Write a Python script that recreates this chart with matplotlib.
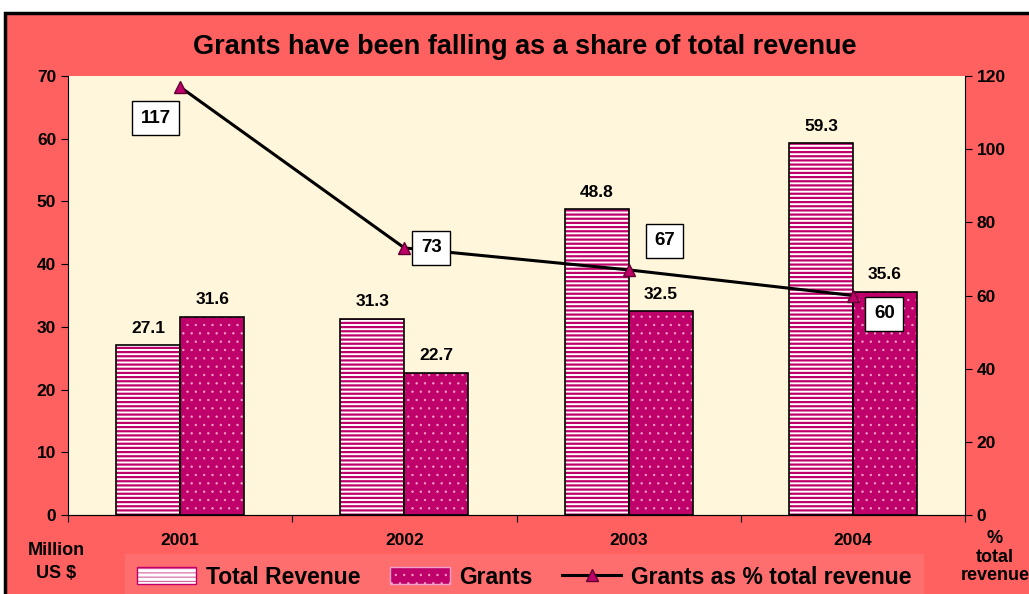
import matplotlib.pyplot as plt
import numpy as np
from matplotlib.patches import Rectangle, Patch
from matplotlib.lines import Line2D

plt.rcParams['font.family'] = ['Liberation Sans', 'DejaVu Sans']
plt.rcParams['font.weight'] = 'bold'

# dados
anos = ['2001', '2002', '2003', '2004']
receita_total = [27.1, 31.3, 48.8, 59.3]
doacoes = [31.6, 22.7, 32.5, 35.6]
pct_receita = [117, 73, 67, 60]

magenta = '#C0006A'
fundo = '#FF6060'
creme = '#FFF6DC'
pontos = '#F0A0C8'


def espessura_hachura(artistas, lw):
    # matplotlib 3.10 guarda a espessura da hachura em cada patch
    for a in artistas:
        if hasattr(a, 'set_hatch_linewidth'):
            a.set_hatch_linewidth(lw)


fig = plt.figure(figsize=(10.29, 5.94), dpi=100)
fig.patch.set_facecolor('white')
# moldura vermelha com borda preta
fig.patches.append(Rectangle((5 / 1029, -0.01), 1.1, 1 - 13 / 594 + 0.01,
                             transform=fig.transFigure, facecolor=fundo,
                             edgecolor='black', linewidth=2.5, zorder=-5))

ax = fig.add_axes([68 / 1029, 1 - 515 / 594, (965 - 68) / 1029, (515 - 76) / 594])
ax.set_facecolor(creme)
x = np.arange(len(anos))
w = 0.285

# receita total: listras horizontais
plt.rcParams['hatch.linewidth'] = 1.6
b1 = ax.bar(x - w / 2, receita_total, w, color='white', edgecolor=magenta,
            hatch='----', linewidth=0, zorder=2)
espessura_hachura(b1, 1.6)
ax.bar(x - w / 2, receita_total, w, fill=False, edgecolor='black', linewidth=1.2, zorder=3)
# doacoes: pontilhado
plt.rcParams['hatch.linewidth'] = 0.5
b2 = ax.bar(x + w / 2, doacoes, w, color=magenta, edgecolor=pontos,
            hatch='..', linewidth=0, zorder=2)
espessura_hachura(b2, 0.5)
ax.bar(x + w / 2, doacoes, w, fill=False, edgecolor='black', linewidth=1.2, zorder=3)

for i in range(len(anos)):
    ax.text(x[i] - w / 2, receita_total[i] + 1.5, f'{receita_total[i]:.1f}',
            ha='center', va='bottom', fontsize=12.5, fontweight='bold')
    ax.text(x[i] + w / 2, doacoes[i] + 1.5, f'{doacoes[i]:.1f}',
            ha='center', va='bottom', fontsize=12.5, fontweight='bold')

ax.set_xlim(-0.5, 3.5)
ax.set_ylim(0, 70)
ax.set_yticks(range(0, 71, 10))
ax.set_xticks(np.arange(-0.5, 3.6, 1))
ax.set_xticklabels([])
ax.tick_params(axis='x', direction='out', length=5)
ax.tick_params(axis='y', direction='out', length=5, labelsize=12.5)
for lbl in ax.get_yticklabels():
    lbl.set_fontweight('bold')
for i, a in enumerate(anos):
    ax.text(x[i], -2.8, a, ha='center', va='top', fontsize=12.5, fontweight='bold')
for s in ['top', 'right']:
    ax.spines[s].set_visible(False)

ax2 = ax.twinx()
ax2.plot(x, pct_receita, color='black', linewidth=2.2, marker='^',
         markersize=8, markerfacecolor=magenta, markeredgecolor='#600030', zorder=5)
ax2.set_ylim(0, 120)
ax2.set_yticks(range(0, 121, 20))
ax2.tick_params(axis='y', direction='out', length=5, labelsize=12.5)
for lbl in ax2.get_yticklabels():
    lbl.set_fontweight('bold')
for s in ['top', 'left']:
    ax2.spines[s].set_visible(False)

caixa = dict(boxstyle='square,pad=0.45', facecolor='white', edgecolor='black', linewidth=1)
desloc = [(-0.11, -8.5), (0.12, 0), (0.16, 8), (0.14, -5)]
for i, v in enumerate(pct_receita):
    ax2.text(x[i] + desloc[i][0], v + desloc[i][1], str(v), ha='center', va='center',
             fontsize=13.5, fontweight='bold', bbox=caixa, zorder=6)

fig.text(0.51, 1 - 47 / 594, 'Grants have been falling as a share of total revenue',
         ha='center', va='center', fontsize=19.5, fontweight='bold')
fig.text(56 / 1029, 1 - 562 / 594, 'Million\nUS $', ha='center', va='center',
         fontsize=13, fontweight='bold', linespacing=1.4)
fig.text(995 / 1029, 1 - 557 / 594, '%\ntotal\nrevenue', ha='center', va='center',
         fontsize=13, fontweight='bold', linespacing=1.15)

plt.rcParams['hatch.linewidth'] = 1.6
h1 = Patch(facecolor='white', edgecolor=magenta, hatch='----')
espessura_hachura([h1], 1.6)
plt.rcParams['hatch.linewidth'] = 0.5
h2 = Patch(facecolor=magenta, edgecolor=pontos, hatch='..')
espessura_hachura([h2], 0.5)
h3 = Line2D([0], [0], color='black', linewidth=2.2, marker='^', markersize=8,
            markerfacecolor=magenta, markeredgecolor='#600030')
leg = fig.legend([h1, h2, h3], ['Total Revenue', 'Grants', 'Grants as % total revenue'],
                 loc='center', bbox_to_anchor=(524 / 1029, 1 - 577 / 594), ncol=3,
                 frameon=True, fancybox=False, facecolor='#FF6E6E',
                 edgecolor='#FF6E6E', handlelength=2.6, handletextpad=0.4,
                 columnspacing=1.3, borderaxespad=0, borderpad=0.5,
                 prop={'weight': 'bold', 'size': 16.5})
leg.get_frame().set_alpha(1)

fig.savefig('out.png', dpi=100, facecolor=fig.get_facecolor())
